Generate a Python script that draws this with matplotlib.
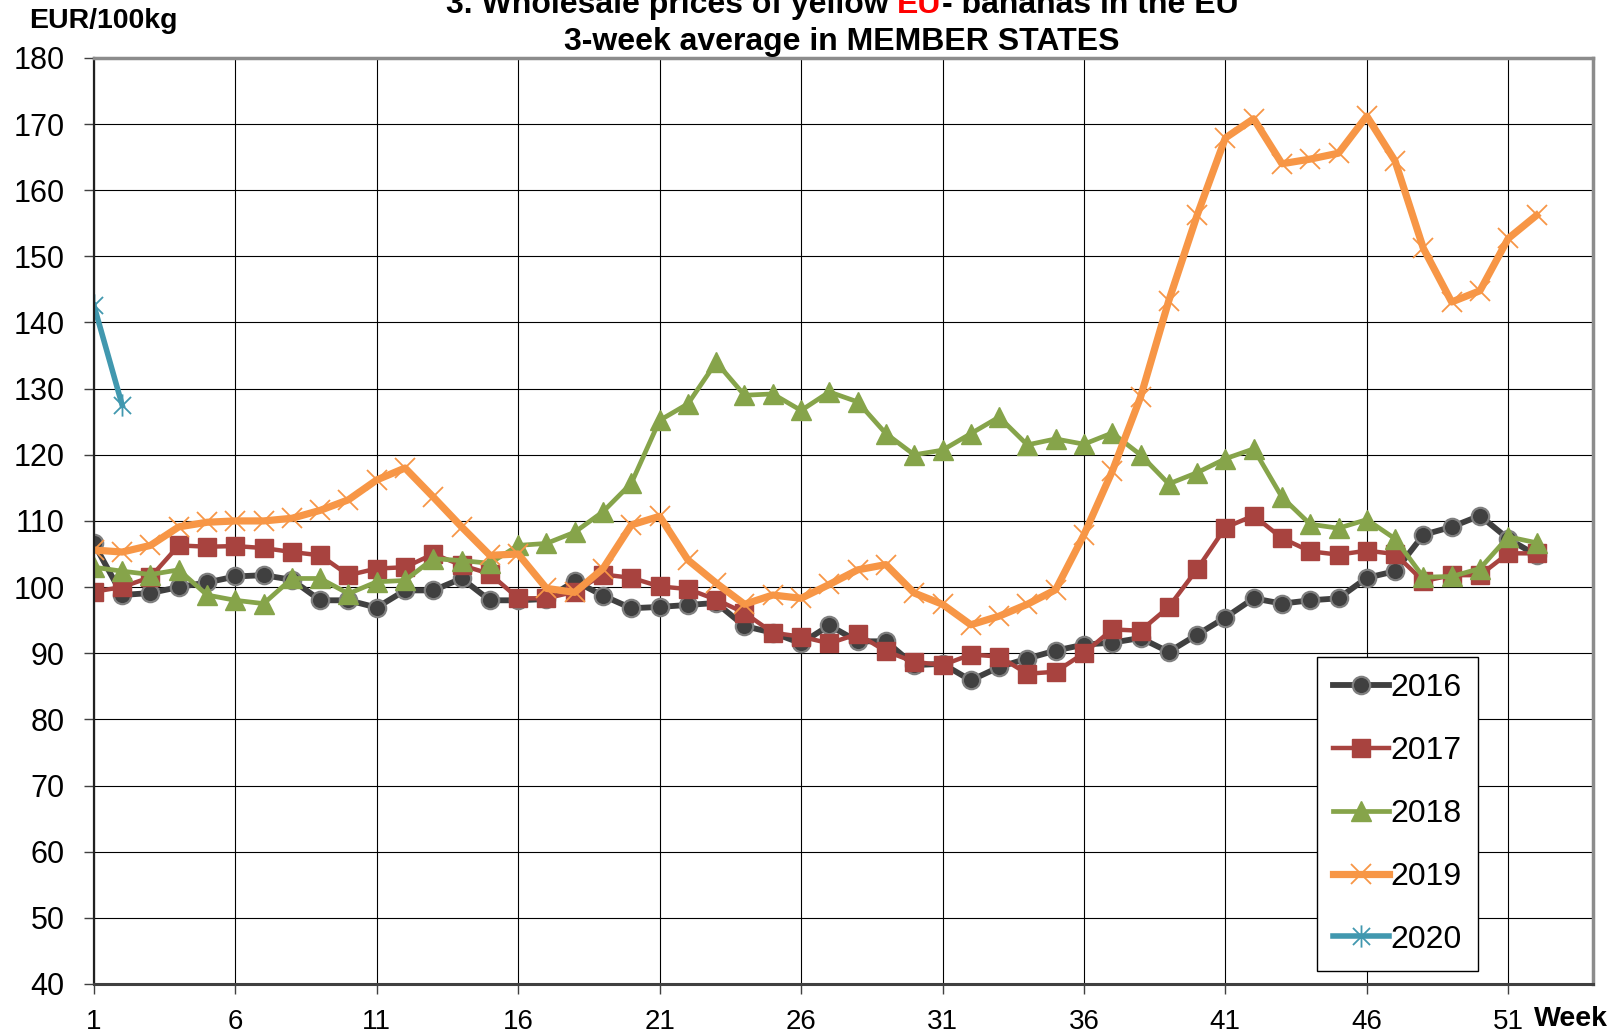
import matplotlib

matplotlib.use("Agg")
import matplotlib.pyplot as plt
from matplotlib.path import Path

plt.rcParams["font.family"] = ["Liberation Sans", "DejaVu Sans"]

WEEKS = list(range(1, 53))
PRICES_2016 = [106.6, 98.8, 99.1, 100.0, 100.7, 101.6, 101.8, 101.1, 98.0, 98.0,
               96.9, 99.5, 99.5, 101.3, 98.0, 98.0, 98.2, 100.9, 98.7, 96.8,
               97.0, 97.3, 97.6, 94.1, 93.1, 91.5, 94.2, 91.8, 91.8, 88.2,
               88.4, 85.9, 87.9, 89.2, 90.4, 91.3, 91.6, 92.3, 90.2, 92.8,
               95.4, 98.3, 97.5, 98.0, 98.3, 101.4, 102.4, 107.9, 109.1, 110.8, 107.3, 104.8]
PRICES_2017 = [99.3, 100.0, 101.5, 106.3, 106.1, 106.2, 105.9, 105.3, 104.8, 101.8,
               102.8, 103.0, 105.0, 103.3, 102.0, 98.3, 98.3, 99.3, 101.9, 101.4,
               100.1, 99.7, 98.1, 96.1, 93.1, 92.5, 91.5, 92.9, 90.3, 88.7,
               88.2, 89.8, 89.5, 86.9, 87.2, 90.0, 93.6, 93.4, 97.0, 102.7,
               109.0, 110.8, 107.4, 105.4, 104.9, 105.5, 105.0, 100.9, 101.8, 101.8, 105.1, 105.1]
PRICES_2018 = [103.0, 102.4, 101.9, 102.6, 98.8, 98.0, 97.5, 101.3, 101.3, 99.0,
               100.8, 101.0, 104.3, 104.0, 103.6, 106.3, 106.6, 108.3, 111.4, 115.7,
               125.2, 127.7, 134.0, 129.0, 129.2, 126.7, 129.5, 128.0, 123.2, 120.0,
               120.7, 123.2, 125.7, 121.5, 122.4, 121.6, 123.3, 120.0, 115.6, 117.3,
               119.4, 120.9, 113.6, 109.5, 108.9, 110.2, 107.3, 101.5, 101.6, 102.8, 107.6, 106.7]
PRICES_2019 = [105.6, 105.3, 106.3, 109.1, 109.8, 110.0, 110.0, 110.4, 111.6, 113.2,
               116.2, 118.0, 113.6, 109.1, 104.8, 105.0, 99.8, 99.2, 102.8, 109.4,
               110.7, 104.1, 100.6, 97.4, 98.8, 98.3, 100.4, 102.6, 103.4, 99.1,
               97.4, 94.3, 95.6, 97.4, 99.6, 107.9, 117.5, 128.7, 143.3, 156.2,
               167.9, 170.8, 164.0, 164.7, 165.6, 171.2, 164.4, 151.2, 143.1, 144.8, 152.7, 156.2]
WEEKS_2020 = [1, 2]
PRICES_2020 = [142.6, 127.5]

X_TICKS = list(range(1, 52, 5))
Y_TICKS = list(range(40, 181, 10))

# Excel style asterisk: an X plus a vertical bar
STAR = Path(
    [(-1, -1), (1, 1), (-1, 1), (1, -1), (0, -1.3), (0, 1.3)],
    [Path.MOVETO, Path.LINETO, Path.MOVETO, Path.LINETO, Path.MOVETO, Path.LINETO],
)


def put_title(fig, y, parts, size):
    """Centre a line of coloured text pieces around x=0.52 of the figure."""
    renderer = fig.canvas.get_renderer()
    texts = [fig.text(0, y, s, color=c, fontsize=size, fontweight="bold", va="center") for s, c in parts]
    widths = [t.get_window_extent(renderer).width / fig.bbox.width for t in texts]
    x = 0.52 - sum(widths) / 2
    for t, w in zip(texts, widths):
        t.set_x(x)
        x += w


fig = plt.figure(figsize=(16.19, 10.34), dpi=100)
ax = fig.add_axes([0.058, 0.0484, 0.926, 0.8956])

ax.plot(WEEKS, PRICES_2016, color="#404040", lw=4.2, marker="o", ms=12.5,
        mfc="#404040", mec="#7f7f7f", mew=1.6, label="2016")
ax.plot(WEEKS, PRICES_2017, color="#A8433F", lw=3.2, marker="s", ms=13.5,
        mfc="#A8433F", mec="#A8433F", label="2017")
ax.plot(WEEKS, PRICES_2018, color="#86A44A", lw=3.4, marker="^", ms=15,
        mfc="#86A44A", mec="#86A44A", label="2018")
ax.plot(WEEKS, PRICES_2019, color="#F79646", lw=5.2, marker="x", ms=15,
        mew=1.3, label="2019")
ax.plot(WEEKS_2020, PRICES_2020, color="#4198AF", lw=4.0, marker=STAR, ms=16,
        mew=1.3, label="2020")

ax.set_xlim(1, 54)
ax.set_ylim(40, 180)
ax.set_xticks(X_TICKS)
ax.set_yticks(Y_TICKS)
ax.tick_params(axis="both", length=7, width=1, color="#404040")
ax.tick_params(axis="x", labelsize=20, pad=11)
ax.tick_params(axis="y", labelsize=22, pad=14)
ax.grid(True, color="black", linewidth=0.8)
ax.set_axisbelow(True)
for side in ("top", "right"):
    ax.spines[side].set_color("#8c8c8c")
    ax.spines[side].set_linewidth(2.5)
ax.spines["bottom"].set_color("#404040")
ax.spines["bottom"].set_linewidth(2.2)
ax.spines["left"].set_color("#202020")
ax.spines["left"].set_linewidth(1.6)

leg = ax.legend(loc="upper left", bbox_to_anchor=(0.816, 0.353), borderaxespad=0,
                fontsize=23, handlelength=1.75, handletextpad=0.05, labelspacing=1.03,
                borderpad=0.5, fancybox=False, framealpha=1, edgecolor="black")
leg.get_frame().set_linewidth(1.0)

fig.text(0.018, 0.980, "EUR/100kg", fontsize=20.5, fontweight="bold", va="center")
fig.text(0.9475, 0.0145, "Week", fontsize=20.5, fontweight="bold", va="center")
put_title(fig, 0.995, [("3. Wholesale prices of yellow ", "black"), ("EU", "red"),
                       ("- bananas in the EU", "black")], 23)
put_title(fig, 0.959, [("3-week average in MEMBER STATES", "black")], 23)

fig.savefig("out.png", dpi=100)
plt.close(fig)
